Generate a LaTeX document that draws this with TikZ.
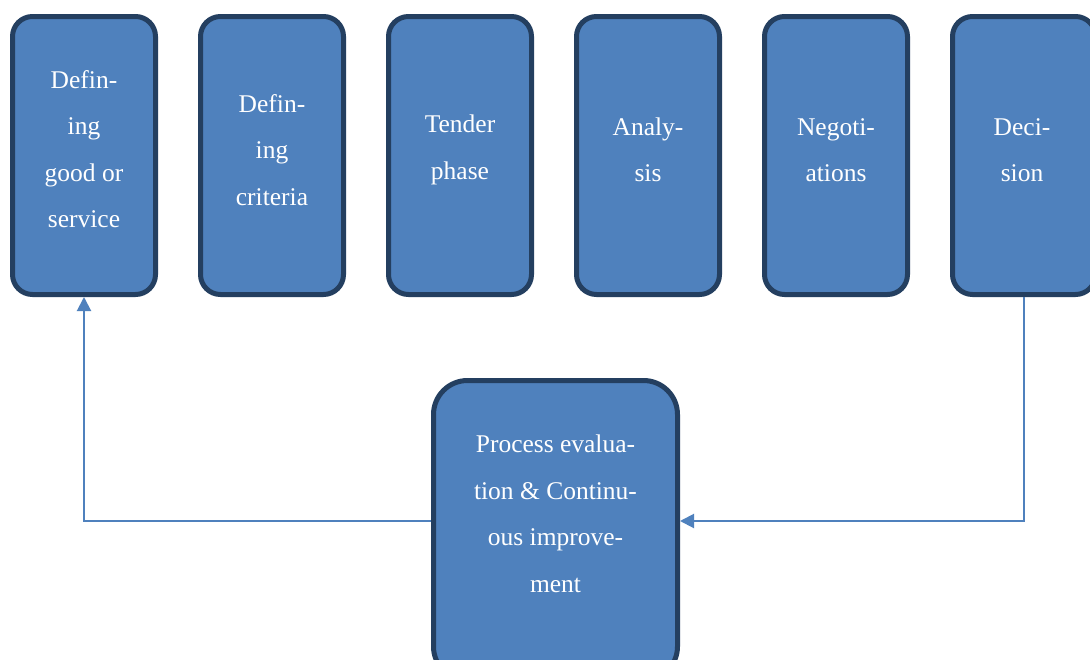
\documentclass[tikz,border=0pt]{standalone}
\usepackage{fontspec}
\setmainfont{Liberation Serif}
\usetikzlibrary{arrows.meta}
\definecolor{boxfill}{HTML}{4F81BD}
\definecolor{boxline}{HTML}{243F60}
\begin{document}
\begin{tikzpicture}[x=1pt,y=-1pt,
  stage/.style={draw=boxline, line width=5pt, fill=boxfill, rounded corners=20pt,
    minimum width=143pt, minimum height=278pt, inner sep=0pt},
  loopbox/.style={draw=boxline, line width=5pt, fill=boxfill, rounded corners=34pt,
    minimum width=244pt, minimum height=300pt, inner sep=0pt},
  label/.style={text=white, align=center, inner sep=0pt, font=\fontsize{25.5}{46.5}\selectfont},
  link/.style={draw=boxfill, line width=2pt, -{Triangle[length=14pt,width=14pt]}}]
\useasboundingbox (0,0) rectangle (1090,659);
\fill[white] (0,0) rectangle (1090,659);
\begin{scope}
\clip (0,0) rectangle (1090,659);
% procurement stages
\node[stage] (s1) at (84,155.5) {};
\node[stage] (s2) at (272,155.5) {};
\node[stage] (s3) at (460,155.5) {};
\node[stage] (s4) at (648,155.5) {};
\node[stage] (s5) at (836,155.5) {};
\node[stage] (s6) at (1024,155.5) {};
\node[label] (t1) at (84,149) {Defin-\\ing\\good or\\service};
\node[label] (t2) at (272,150) {Defin-\\ing\\criteria};
\node[label] (t3) at (460,150) {Tender\\phase};
\node[label] (t4) at (648,150) {Analy-\\sis};
\node[label] (t5) at (836,150) {Negoti-\\ations};
\node[label] (t6) at (1022,150) {Deci-\\sion};
% feedback box
\node[loopbox] (ev) at (555.5,530.5) {};
\node[label] (tev) at (555.5,514) {Process evalua-\\tion \& Continu-\\ous improve-\\ment};
% feedback loop
\coordinate (yl) at (0,521);
\draw[link] (s6.south) -- (s6.south |- yl) -- (ev.east |- yl);
\draw[link] (ev.west |- yl) -- (s1.south |- yl) -- (s1.south);
\end{scope}
\end{tikzpicture}
\end{document}
